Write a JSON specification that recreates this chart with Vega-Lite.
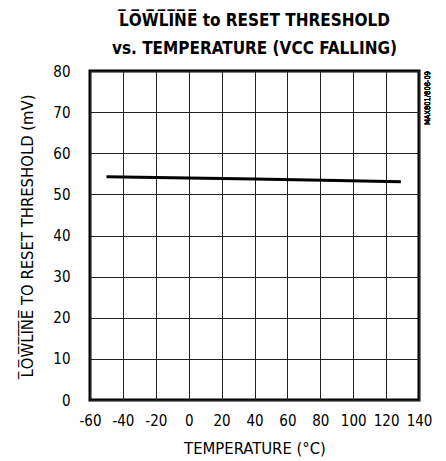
{
  "$schema": "https://vega.github.io/schema/vega-lite/v6.json",
  "autosize": "none",
  "width": 329,
  "height": 329,
  "padding": {"left": 90, "top": 71, "right": 27, "bottom": 61},
  "title": {
    "text": ["L̅O̅W̅L̅I̅N̅E̅ to RESET THRESHOLD", "vs. TEMPERATURE (VCC FALLING)"],
    "font": "DejaVu Sans Condensed, sans-serif",
    "fontSize": 17,
    "fontWeight": "bold",
    "color": "black",
    "lineHeight": 28,
    "offset": 6,
    "anchor": "middle"
  },
  "config": {
    "view": {"stroke": "black", "strokeWidth": 3},
    "axis": {
      "labelFont": "DejaVu Sans Condensed, sans-serif",
      "titleFont": "DejaVu Sans Condensed, sans-serif",
      "labelFontSize": 15,
      "titleFontSize": 16.5,
      "titleFontWeight": "normal",
      "labelColor": "black",
      "titleColor": "black",
      "labelOverlap": false,
      "ticks": false,
      "domain": false,
      "gridColor": "#222",
      "gridWidth": 1,
      "gridOpacity": 1
    }
  },
  "data": {
    "values": [
      {"temp": -50, "mv": 54.3},
      {"temp": -10, "mv": 54.05},
      {"temp": 40, "mv": 53.75},
      {"temp": 90, "mv": 53.4},
      {"temp": 129, "mv": 53.1}
    ]
  },
  "layer": [
    {
      "mark": {"type": "line", "color": "black", "strokeWidth": 3, "strokeCap": "butt"},
      "encoding": {
        "x": {
          "field": "temp", "type": "quantitative",
          "scale": {"domain": [-60, 140], "nice": false},
          "axis": {
            "title": "TEMPERATURE (°C)",
            "values": [-60, -40, -20, 0, 20, 40, 60, 80, 100, 120, 140],
            "tickCount": 20,
            "labelExpr": "'' + datum.value",
            "labelPadding": 13,
            "titlePadding": 12,
            "labelFlush": false
          }
        },
        "y": {
          "field": "mv", "type": "quantitative",
          "scale": {"domain": [0, 80], "nice": false},
          "axis": {
            "title": "L̅O̅W̅L̅I̅N̅E̅ TO RESET THRESHOLD (mV)",
            "values": [0, 10, 20, 30, 40, 50, 60, 70, 80],
            "tickCount": 20,
            "labelPadding": 20,
            "titlePadding": 17,
            "labelFlush": false
          }
        }
      }
    },
    {
      "mark": {
        "type": "text",
        "text": "MAX801/808-09",
        "angle": 270,
        "align": "right",
        "baseline": "top",
        "dy": 5,
        "font": "DejaVu Sans Condensed, sans-serif",
        "fontSize": 7.5,
        "color": "black"
      },
      "encoding": {
        "x": {"datum": 140, "type": "quantitative"},
        "y": {"datum": 80, "type": "quantitative"}
      }
    }
  ]
}
